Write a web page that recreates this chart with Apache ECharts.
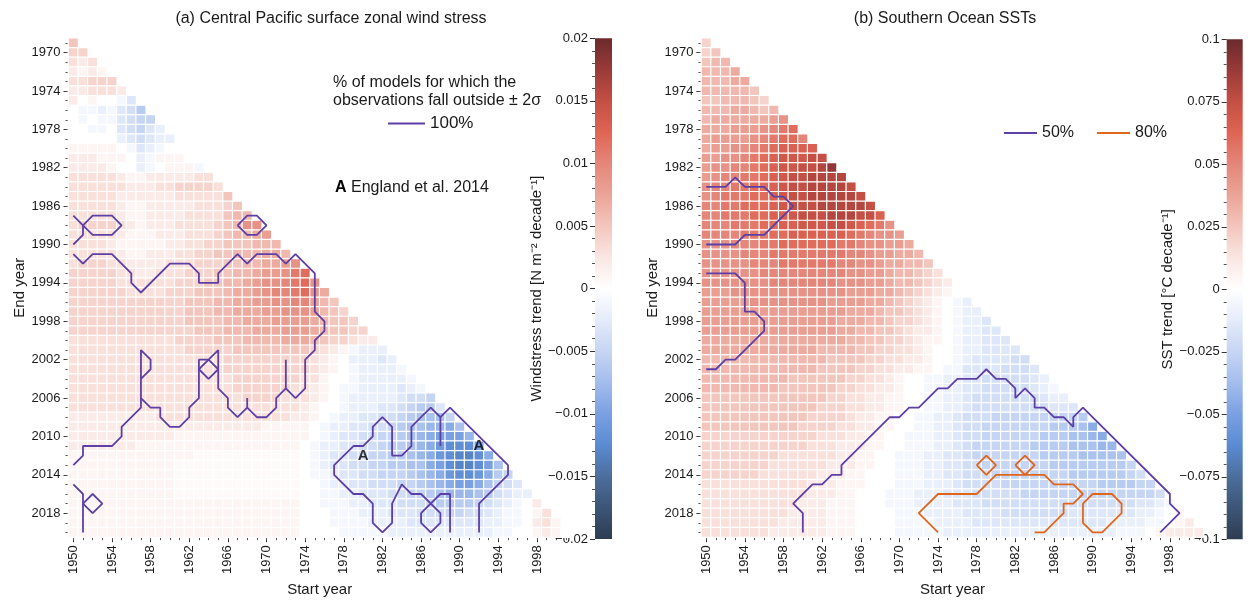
<!DOCTYPE html>
<html>
<head>
<meta charset="utf-8">
<script src="https://cdn.jsdelivr.net/npm/echarts@6/dist/echarts.min.js"></script>
<style>
html,body{margin:0;padding:0;background:#ffffff;}
#chart{width:1253px;height:602px;}
</style>
</head>
<body>
<div id="chart"></div>
<script>
// ---------------- categories / tick labels ----------------
const startYears = ['1950','1951','1952','1953','1954','1955','1956','1957','1958','1959','1960','1961','1962','1963','1964','1965','1966','1967','1968','1969','1970','1971','1972','1973','1974','1975','1976','1977','1978','1979','1980','1981','1982','1983','1984','1985','1986','1987','1988','1989','1990','1991','1992','1993','1994','1995','1996','1997','1998','1999','2000','2001'];
const endYears = ['1969','1970','1971','1972','1973','1974','1975','1976','1977','1978','1979','1980','1981','1982','1983','1984','1985','1986','1987','1988','1989','1990','1991','1992','1993','1994','1995','1996','1997','1998','1999','2000','2001','2002','2003','2004','2005','2006','2007','2008','2009','2010','2011','2012','2013','2014','2015','2016','2017','2018','2019','2020'];
const startTickLabels = ['1950','1954','1958','1962','1966','1970','1974','1978','1982','1986','1990','1994','1998'];
const endTickLabels = ['1970','1974','1978','1982','1986','1990','1994','1998','2002','2006','2010','2014','2018'];
const windTicks = [-0.02,-0.015,-0.01,-0.005,0,0.005,0.01,0.015,0.02];
const sstTicks = [-0.1,-0.075,-0.05,-0.025,0,0.025,0.05,0.075,0.1];

// ---------------- (a) wind stress trend, one row per end year (1969..2020), start year 1950.. ; unit 0.001 N m-2 decade-1
const windUnit = 0.001;
const windTrendRows = [
[5],
[4,4],
[3,2,3],
[2,1,2,1],
[3,3,4,4,4],
[2,2,3,3,3,2],
[2,0,1,0,0,-1,-3],
[0,-1,-1,-2,-1,-3,-4,-6],
[0,-1,0,-1,-1,-3,-4,-5,-5],
[0,0,-1,-1,0,-3,-4,-5,-3,-2],
[0,0,0,0,0,-2,-3,-4,-3,-2,-2],
[1,1,1,1,1,0,-1,-3,-2,-1,0,0],
[2,2,2,1,1,1,0,-2,-1,1,1,1,0],
[2,2,2,2,1,0,0,-2,-1,0,1,1,1,-1],
[3,3,3,3,3,2,1,1,2,2,2,2,2,3,3],
[3,3,3,3,3,3,2,2,2,3,3,4,4,4,4,3],
[3,3,3,3,3,2,2,2,2,2,2,3,3,3,3,3,5],
[3,3,3,3,3,2,1,1,2,2,2,2,2,3,3,3,4,5],
[3,3,3,3,3,2,1,1,2,2,2,2,3,3,3,3,5,6,6],
[3,4,4,4,4,3,2,1,2,2,2,3,3,3,3,4,5,6,9,9],
[3,3,3,3,3,2,1,1,1,2,2,2,3,3,3,4,5,6,6,7,8],
[3,3,3,3,2,1,1,1,1,1,2,2,3,3,4,4,5,5,5,6,6,6],
[3,3,3,3,3,2,1,1,2,2,2,3,3,4,4,5,5,6,6,6,7,7,6],
[3,4,4,4,3,3,2,2,2,2,3,3,3,4,4,4,5,5,6,6,7,7,8,9],
[4,4,4,4,4,3,3,2,2,3,3,3,4,4,4,5,5,6,6,7,8,8,9,11,12],
[4,4,4,4,4,3,3,3,3,3,3,4,4,4,5,5,6,6,7,8,9,9,10,11,12,9],
[4,4,4,4,4,4,3,3,3,3,4,4,4,5,5,5,6,7,7,8,9,10,10,11,12,9,7],
[4,4,4,4,4,4,4,4,4,4,4,4,5,5,5,6,6,7,7,8,8,9,9,10,10,8,6,5],
[4,4,4,4,4,4,4,4,4,4,4,4,5,5,5,6,6,7,7,7,8,8,9,9,9,8,6,5,4],
[4,4,4,4,4,4,4,4,4,4,4,4,5,5,5,5,6,6,7,7,7,8,8,8,8,7,6,5,5,4],
[4,4,4,4,4,4,4,4,4,4,4,4,4,5,5,5,6,6,6,7,7,7,8,8,8,7,6,5,5,4,4],
[3,3,3,3,3,3,3,3,3,3,3,4,4,4,4,5,5,5,6,6,6,6,7,7,7,6,5,4,4,3,2,2],
[3,3,3,3,3,3,3,3,3,3,3,3,4,4,4,4,4,5,5,5,5,5,5,5,5,4,3,2,1,-1,-2,-2,-2],
[3,3,3,3,3,3,3,3,3,3,3,3,3,3,3,3,4,4,4,4,4,4,4,4, 4,3,2,1,0,-2,-2,-2,-3,-2],
[3,3,3,3,3,3,3,3,3,3,3,3,3,3,3,3,4,4,4,4,4,4,4,4, 4,3,2,1,0,-1,-2,-2,-2,-2,-1],
[3,3,3,3,3,3,3,3,3,3,3,3,3,3,3,3,3,4,4,4,4,4,4,4, 3,3,1,0,0,-1,-2,-2,-2,-2,-2,-1],
[3,3,3,3,3,3,3,3,3,3,3,3,3,3,3,3,3,4,4,4,4,4,4,3, 3,2,1,0,-1,-1,-2,-2,-2,-2,-3,-2,-1],
[3,3,3,3,3,3,3,3,3,3,3,3,3,3,3,3,3,3,4,4,4,4,3,3, 3,2,1,0,-1,-2,-2,-2,-2,-2,-3,-4,-4,-5],
[3,3,3,3,3,3,3,3,3,3,3,3,3,3,3,3,3,3,3,3,3,3,3,3, 2,1,0,0,-1,-2,-2,-2,-3,-3,-4,-5,-6,-6,-3],
[2,2,2,2,2,2,2,2,2,3,3,3,3,3,3,3,3,3,3,3,3,3,3,2, 2,1,0,-1,-2,-2,-3,-3,-4,-4,-5,-6,-7,-7,-7,-5],
[2,2,2,2,2,2,2,2,2,2,2,2,2,2,2,2,2,2,2,2,1,1,1,1, 1,0,-1,-2,-2,-3,-3,-4,-4,-5,-6,-7,-7,-8,-8,-9,-7],
[2,2,2,2,2,2,2,2,2,2,2,1,1,1,1,1,1,1,1,1,1,1,1,1, 1,0,-1,-2,-3,-3,-4,-4,-5,-5,-6,-7,-8,-9,-10,-10,-10,-8],
[2,2,2,2,2,2,2,1,1,1,1,1,1,1,1,1,1,1,1,1,1,1,1,1, 0,-1,-2,-2,-3,-3,-4,-4,-5,-6,-6,-7,-8,-9,-11,-12,-12,-12,-10],
[1,1,1,1,1,1,1,1,1,1,1,1,1,0.5,0.5,0.5,0.5,0.5,0.5,0.5,0.5,0.5,0.5,0.5, 0,-1,-2,-3,-3,-4,-4,-5,-5,-6,-6,-7,-8,-9,-11,-12,-13,-13,-12,-9],
[1,1,1,1,1,1,1,1,1,1,1,0.5,0.5,0.5,0.5,0.5,0.5,0.5,0.5,0.5,0.5,0.5,0.5,0.5, 0,-1,-2,-3,-3,-4,-4,-5,-5,-6,-6,-7,-7,-9,-10,-12,-13,-13,-12,-10,-7],
[1,1,1,1,1,1,1,1,1,1,1,0.5,0.5,0.5,0.5,0.5,0.5,0.5,0.5,0.5,0.5,0.5,0.5,0.5, 0,-1,-1,-2,-3,-3,-4,-4,-5,-5,-5,-6,-7,-8,-9,-11,-12,-12,-11,-9,-6,-5],
[1,1,1,1,1,1,1,1,1,1,1,0.5,0.5,0.5,0.5,0.5,0.5,0.5,0.5,0.5,0.5,0.5,0.5,0.5, 0,0,-1,-2,-2,-3,-3,-4,-4,-4,-5,-5,-6,-7,-8,-9,-10,-10,-9,-7,-5,-4,-3],
[1,1,1,1,1,1,1,1,1,1,1,0.5,0.5,0.5,0.5,0.5,0.5,0.5,0.5,0.5,0.5,0.5,0.5,0.5, 0,0,-1,-1,-2,-2,-3,-3,-3,-4,-4,-5,-5,-6,-7,-8,-8,-8,-7,-6,-4,-3,-2,-2],
[1,1,1,1,1,1,1,1,1,1,1,1,1,1,1,1,1,1,1,1,1,1,1,1, 0,0,-1,-1,-1,-2,-2,-3,-3,-3,-4,-4,-4,-5,-6,-6,-6,-6,-5,-4,-3,-2,-1,0,2],
[1,1,1,1,1,1,1,1,1,1,1,1,1,1,1,1,1,1,1,1,1,1,1,1, 0,0,0,-1,-1,-1,-2,-2,-2,-3,-3,-3,-4,-4,-4,-5,-5,-4,-4,-3,-2,-1,-1,0,1,3],
[1,1,1,1,1,1,1,1,1,1,1,1,1,1,1,1,1,1,1,1,1,1,1,1, 0,0,0,-1,-1,-1,-1,-2,-2,-2,-2,-3,-3,-3,-3,-3,-3,-3,-3,-2,-2,-1,-1,0,2,3,1],
[1,1,1,1,1,1,1,1,1,1,1,1,1,1,1,1,1,1,1,1,1,1,1,1, 0,0,0,0,-1,-1,-1,-1,-1,-2,-2,-2,-2,-2,-2,-2,-2,-2,-2,-2,-1,-1,0,0,1,2,1,0]
];

// ---------------- (b) Southern Ocean SST trend ; unit 0.005 degC decade-1
const sstUnit = 0.005;
const sstTrendRows = [
[4],
[4,5],
[5,6,6],
[6,6,6,7],
[6,6,6,7,7],
[6,6,6,6,6,5],
[5,5,6,6,6,5,4],
[6,6,6,7,7,6,5,6],
[6,7,7,7,7,7,7,8,9],
[7,7,7,8,8,8,9,10,11,12],
[7,8,8,8,8,9,10,11,12,12,10],
[7,8,8,9,9,10,11,12,13,13,13,13],
[8,8,9,9,10,11,12,13,14,14,14,15,15],
[8,9,9,10,10,11,12,13,14,14,15,15,16,18],
[8,9,10,10,11,11,12,13,14,15,15,16,16,16,16],
[9,10,10,11,11,12,12,13,14,15,15,16,16,16,16,15],
[9,10,11,11,11,12,12,13,14,15,15,16,16,16,16,16,15],
[10,10,11,11,12,12,12,13,14,15,15,15,16,16,16,16,16,15],
[10,10,11,11,11,12,12,13,13,14,15,15,15,16,16,16,15,15,13],
[10,10,10,11,11,11,12,12,13,13,14,14,14,15,15,14,13,12,11,9],
[10,10,10,10,11,11,11,12,12,13,13,13,13,13,13,12,11,10,9,9,8],
[9,9,9,10,10,10,11,11,12,12,12,12,12,12,11,11,10,9,9,8,8,7],
[9,9,9,9,10,10,10,11,11,11,11,11,11,11,11,10,10,9,8,8,7,7,6],
[9,9,9,9,9,10,10,10,11,11,11,11,11,11,10,10,9,9,8,7,7,6,6,5],
[9,9,9,9,9,9,10,10,10,10,10,10,10,10,10,9,9,8,8,7,6,6,5,4,3],
[9,9,9,9,9,9,9,10,10,10,10,10,10,10,9,9,9,8,8,7,6,6,5,4,3,2],
[8,8,8,9,9,9,9,9,9,9,9,9,9,9,9,8,8,8,7,7,6,5,4,3,2,1,0],
[8,8,8,8,8,9,9,9,9,9,9,9,9,8,8,8,8,7,7,6,5,4,3,2,1,0,-1,-2],
[8,8,8,8,8,8,8,8,8,8,8,8,8,8,8,7,7,7,6,5,5,4,3,2,1,0,-1,-2,-2],
[8,8,8,8,8,8,8,8,8,8,8,8,8,8,7,7,7,6,6,5,4,4,3,2,1,0,-1,-2,-2,-3],
[8,8,8,8,8,8,8,8,8,8,8,8,8,8,7,7,6,6,5,5,4,3,2,2,1,0,-1,-2,-2,-3,-3],
[7,7,7,7,7,7,7,7,7,7,7,7,7,7,7,6,6,5,5,4,4,3,2,1,1,0,-1,-2,-2,-3,-3,-3],
[7,7,7,7,7,7,7,7,7,7,7,7,6,6,6,6,5,5,4,4,3,3,2,1,0,0,-1,-2,-2,-3,-3,-3,-3],
[6,6,6,6,6,6,6,6,6,6,6,6,6,5,5,5,5,4,4,3,3,2,2,1,0,0,-1, -2,-3,-3,-3,-3,-4,-4],
[6,6,6,6,6,6,6,6,6,6,6,6,5,5,5,5,4,4,3,3,2,2,1,1,0,-1,-1, -3,-3,-3,-3,-4,-4,-4,-3],
[6,6,6,6,6,6,6,6,6,5,5,5,5,5,5,4,4,3,3,2,1,0,0,-1,-1,-2,-2, -3,-3,-4,-4,-4,-4,-4,-3,-2],
[6,6,6,6,6,6,6,6,5,5,5,5,5,5,4,4,3,3,2,2,1,0,0,-1,-1,-2,-2, -3,-3,-4,-4,-4,-4,-4,-3,-2,-1],
[5,5,5,5,5,5,5,5,5,5,5,5,5,4,4,3,3,2,2,1,1,0,0,-1,-1,-2,-2, -3,-4,-4,-4,-4,-4,-4,-4,-3,-2,-2],
[5,5,5,5,5,5,5,5,5,5,5,5,4,4,4,3,3,2,2,1,1,0,0,-1,-1,-2,-2, -3,-4,-4,-4,-4,-4,-4,-4,-4,-3,-3,-3],
[5,5,5,5,5,5,5,5,5,5,5,4,4,4,4,3,2,2,1,1,0,0,-1,-1,-2,-2,-3, -4,-4,-4,-5,-5,-5,-5,-5,-5,-5,-5,-5,-6],
[5,5,5,5,5,5,5,5,5,5,4,4,4,4,3,3,2,2,1,1,0,0,-1,-1,-2,-2,-3, -4,-4,-5,-5,-5,-5,-5,-5,-5,-6,-6,-6,-7,-9],
[4,4,4,4,4,4,4,4,4,4,4,4,3,3,3,2,2,1,1,0,0,-1,-1,-1,-2,-2,-3, -4,-4,-5,-5,-5,-5,-5,-5,-6,-6,-6,-7,-7,-8,-9],
[4,4,4,4,4,4,4,4,4,4,4,3,3,3,2,2,2,1,1,0,0,-1,-1,-1,-2,-2,-3, -4,-5,-5,-5,-5,-5,-5,-6,-6,-6,-6,-7,-7,-7,-8,-8],
[4,4,4,4,4,4,4,4,3,3,3,3,3,3,2,2,1,1,0,0,-1,-1,-1,-2,-2,-3,-3, -4,-5,-5,-5,-5,-5,-5,-5,-6,-6,-6,-6,-7,-7,-7,-7,-7],
[4,4,4,4,4,4,4,3,3,3,3,3,3,2,2,2,1,1,0,0,-1,-1,-1,-2,-2,-3,-3, -4,-4,-5,-5,-5,-5,-5,-5,-5,-6,-6,-6,-6,-6,-6,-6,-6,-5],
[4,4,4,4,4,4,3,3,3,3,3,3,2,2,2,1,1,0,0,0,-1,-1,-1,-2,-2,-3,-3, -4,-4,-4,-5,-5,-5,-5,-5,-5,-5,-5,-6,-6,-6,-6,-6,-6,-5,-4],
[3,3,3,3,3,3,3,3,3,3,3,2,2,2,1,1,1,0,0,0,-1,-1,-1,-2,-2,-2,-3, -4,-4,-4,-4,-5,-5,-5,-5,-5,-5,-5,-5,-5,-5,-6,-6,-6,-6,-5,-5],
[3,3,3,3,3,3,3,3,3,3,3,2,2,2,1,1,0,0,0,-1,-1,-1,-2,-2,-2,-3,-3, -3,-4,-4,-4,-4,-4,-5,-5,-5,-5,-5,-5,-5,-5,-5,-5,-5,-5,-5,-5,-4],
[3,3,3,3,3,3,3,3,3,3,2,2,2,1,1,1,0,0,0,-1,-1,-1,-2,-2,-2,-2,-3, -3,-3,-4,-4,-4,-4,-4,-4,-4,-4,-4,-4,-4,-4,-4,-4,-4,-4,-3,-3,-2,-1],
[3,3,3,3,3,3,3,3,3,2,2,2,2,1,1,1,0,0,0,0,-1,-1,-1,-2,-2,-2,-2, -3,-3,-3,-3,-4,-4,-4,-4,-4,-4,-4,-3,-3,-3,-3,-3,-3,-3,-2,-2,-1,0,1],
[3,3,3,3,3,3,3,3,2,2,2,2,2,1,1,1,0,0,0,0,-1,-1,-1,-1,-2,-2,-2, -2,-3,-3,-3,-3,-3,-3,-3,-3,-3,-3,-3,-3,-3,-3,-2,-2,-2,-2,-1,-1,0,1,2],
[3,3,3,3,3,3,3,2,2,2,2,2,2,1,1,1,0,0,0,0,-1,-1,-1,-1,-1,-2,-2, -2,-2,-2,-2,-2,-2,-2,-2,-2,-2,-2,-2,-2,-2,-2,-2,-1,-1,-1,0,1,2,2,2,2]
];

// ---------------- contour lines, [start year, end year] ----------------
const windContour100 = [
  [[1950,1987],[1951,1988],[1952,1987],[1954,1987],[1955,1988],[1954,1989],[1952,1989],[1951,1988]],
  [[1951,1988],[1951,1989],[1950,1990]],
  [[1967,1988],[1968,1987],[1969,1987],[1970,1988],[1969,1989],[1968,1989],[1967,1988]],
  [[1950,1991],[1951,1992],[1952,1991],[1954,1991],[1956,1993],[1956,1994],[1957,1995],[1960,1992],[1962,1992],[1963,1993],[1963,1994],[1965,1994],[1965,1993],[1967,1991],[1968,1992],[1969,1991],[1971,1991],[1972,1992],[1973,1991],[1975,1993],[1975,1997],[1976,1998],[1976,1999],[1975,2000],[1975,2001],[1974,2002],[1974,2005],[1973,2006],[1972,2005],[1971,2006],[1971,2007],[1970,2008],[1969,2008],[1968,2007],[1967,2008],[1966,2007],[1966,2006],[1965,2005],[1965,2001],[1964,2002],[1963,2002],[1963,2006],[1962,2007],[1962,2008],[1961,2009],[1960,2009],[1959,2008],[1959,2007],[1958,2007],[1957,2006],[1957,2001],[1958,2002],[1958,2003],[1957,2004]],
  [[1957,2006],[1957,2007],[1955,2009],[1955,2010],[1954,2011],[1951,2011],[1951,2012],[1950,2013]],
  [[1972,2002],[1972,2005]],
  [[1968,2006],[1968,2007]],
  [[1963,2003],[1964,2002],[1965,2003],[1964,2004],[1963,2003]],
  [[1950,2015],[1951,2016],[1951,2020]],
  [[1951,2017],[1952,2016],[1953,2017],[1952,2018],[1951,2017]],
  [[1992,2020],[1992,2017],[1995,2014],[1995,2013],[1989,2007],[1988,2008],[1987,2007],[1986,2008],[1985,2009],[1985,2011],[1984,2012],[1983,2012],[1983,2009],[1982,2008],[1981,2009],[1981,2010],[1980,2011],[1979,2011],[1977,2013],[1977,2014],[1979,2016],[1980,2016],[1981,2017],[1981,2019],[1982,2020],[1983,2019],[1983,2017],[1984,2015],[1985,2016],[1986,2016],[1988,2018],[1988,2019],[1987,2020],[1986,2019],[1986,2018],[1988,2016],[1989,2016],[1989,2020]],
  [[1988,2008],[1988,2011]]
];
const sstContour50 = [
  [[1950,1984],[1952,1984],[1953,1983],[1954,1984],[1956,1984],[1957,1985],[1958,1985],[1959,1986],[1956,1989],[1954,1989],[1953,1990],[1950,1990]],
  [[1950,1993],[1953,1993],[1954,1994],[1954,1997],[1955,1997],[1956,1998],[1956,1999],[1953,2002],[1952,2002],[1951,2003],[1950,2003]],
  [[1960,2020],[1960,2018],[1959,2017],[1961,2015],[1962,2015],[1963,2014],[1964,2014],[1964,2013],[1969,2008],[1970,2008],[1971,2007],[1972,2007],[1974,2005],[1975,2005],[1976,2004],[1978,2004],[1979,2003],[1980,2004],[1981,2004],[1982,2005],[1982,2006],[1983,2005],[1984,2006],[1984,2007],[1985,2007],[1986,2008],[1987,2008],[1988,2009],[1988,2008],[1989,2007],[1998,2016],[1998,2017],[1999,2018],[1997,2020]]
];
const sstContour80 = [
  [[1974,2020],[1972,2018],[1974,2016],[1978,2016],[1980,2014],[1985,2014],[1986,2015],[1988,2015],[1989,2016],[1988,2017],[1987,2017],[1987,2018],[1985,2020],[1984,2020]],
  [[1978,2013],[1979,2012],[1980,2013],[1979,2014],[1978,2013]],
  [[1982,2013],[1983,2012],[1984,2013],[1983,2014],[1982,2013]],
  [[1989,2017],[1990,2016],[1992,2016],[1993,2017],[1993,2018],[1991,2020],[1990,2020],[1989,2019],[1989,2017]]
];
const englandMarks = [[1980,2012],[1992,2011]];

// ---------------- styling ----------------
const FONT = "'Liberation Sans', Arial, Helvetica, sans-serif";
const TXT = '#1a1a1a';
const divergingColors = ['#2d3d52','#3d5576','#4c6e9c','#5a8bd2','#7aa0e2','#a3bdec','#c6d5f3','#e4ebfa','#ffffff','#fae6e2','#f3c6bd','#eba498','#e5867a','#df6554','#c44f44','#9a3a38','#6b2a2c'];
const PURPLE = '#5d3fa6';
const ORANGE = '#e0661c';

function toCells(rows, unit) {
  const out = [];
  rows.forEach((row, r) => row.forEach((v, c) => out.push([c, r, v * unit])));
  return out;
}
function fmtBar(v) {
  const s = String(parseFloat(Number(v).toFixed(4)));
  return s.charAt(0) === '-' ? '\u2212' + s.slice(1) : s;
}
function barGradient() {
  const stops = divergingColors.slice().reverse().map((c, i, a) => ({offset: i / (a.length - 1), color: c}));
  return {type: 'linear', x: 0, y: 0, x2: 0, y2: 1, colorStops: stops};
}

const GA = {left: 68.5, top: 38.2, width: 502.3, height: 502};
const GB = {left: 701.4, top: 38.2, width: 502.3, height: 502};

function heatAxesX(gi) {
  const majorFn = (i, v) => startTickLabels.indexOf(v) >= 0;
  return [
    {type: 'category', gridIndex: gi, data: startYears, position: 'bottom',
     axisLine: {show: false}, splitLine: {show: false},
     axisTick: {show: true, alignWithLabel: true, interval: majorFn, length: 5, lineStyle: {color: '#333'}},
     axisLabel: {show: true, interval: majorFn, rotate: 90, margin: 8, fontSize: 13, color: TXT, fontFamily: FONT},
     name: 'Start year', nameLocation: 'middle', nameGap: 40,
     nameTextStyle: {fontSize: 15, color: TXT, fontFamily: FONT}},
    {type: 'category', gridIndex: gi, data: startYears, position: 'bottom',
     axisLine: {show: false}, splitLine: {show: false}, axisLabel: {show: false},
     axisTick: {show: true, alignWithLabel: true, interval: 0, length: 3, lineStyle: {color: '#555'}}},
    {type: 'value', gridIndex: gi, min: 1949.5, max: 2001.5, show: false, splitLine: {show: false}}
  ];
}
function heatAxesY(gi) {
  const majorFn = (i, v) => endTickLabels.indexOf(v) >= 0;
  return [
    {type: 'category', gridIndex: gi, data: endYears, inverse: true, position: 'left',
     axisLine: {show: false}, splitLine: {show: false},
     axisTick: {show: true, alignWithLabel: true, interval: majorFn, length: 5, lineStyle: {color: '#333'}},
     axisLabel: {show: true, interval: majorFn, margin: 8, fontSize: 13, color: TXT, fontFamily: FONT},
     name: 'End year', nameLocation: 'middle', nameGap: 41, nameRotate: 90,
     nameTextStyle: {fontSize: 15, color: TXT, fontFamily: FONT}},
    {type: 'category', gridIndex: gi, data: endYears, inverse: true, position: 'left',
     axisLine: {show: false}, splitLine: {show: false}, axisLabel: {show: false},
     axisTick: {show: true, alignWithLabel: true, interval: 0, length: 3, lineStyle: {color: '#555'}}},
    {type: 'value', gridIndex: gi, min: 1968.5, max: 2020.5, inverse: true, show: false, splitLine: {show: false}}
  ];
}
function barAxisY(gi, ticks, name) {
  return {type: 'value', gridIndex: gi, position: 'left',
    min: ticks[0], max: ticks[ticks.length - 1], interval: ticks[1] - ticks[0],
    axisLine: {show: false}, splitLine: {show: false},
    axisTick: {show: true, length: 5, lineStyle: {color: '#333'}},
    minorTick: {show: true, splitNumber: 5, length: 3, lineStyle: {color: '#555'}},
    minorSplitLine: {show: false},
    axisLabel: {fontSize: 13, color: TXT, margin: 7, fontFamily: FONT, formatter: fmtBar},
    name: name, nameLocation: 'middle', nameGap: 50, nameRotate: 90,
    nameTextStyle: {fontSize: 15, color: TXT, fontFamily: FONT}};
}
function contourSeries(name, paths, color, xi, yi) {
  return paths.map(p => ({type: 'line', name: name, xAxisIndex: xi, yAxisIndex: yi, data: p,
    symbol: 'none', showSymbol: false, silent: true, z: 5,
    lineStyle: {color: color, width: 1.8}, itemStyle: {color: color}}));
}

const option = {
  animation: false,
  backgroundColor: '#ffffff',
  textStyle: {fontFamily: FONT},
  title: [
    {text: '(a) Central Pacific surface zonal wind stress', left: 326, top: 6, textAlign: 'center',
     textStyle: {fontSize: 16, fontWeight: 'normal', color: TXT, fontFamily: FONT}},
    {text: '(b) Southern Ocean SSTs', left: 940, top: 6, textAlign: 'center',
     textStyle: {fontSize: 16, fontWeight: 'normal', color: TXT, fontFamily: FONT}},
    {text: '% of models for which the\nobservations fall outside \u00b1 2\u03c3', left: 328, top: 69,
     textStyle: {fontSize: 16, lineHeight: 18, fontWeight: 'normal', color: TXT, fontFamily: FONT}},
    {text: '{b|A} England et al. 2014', left: 330, top: 175,
     textStyle: {fontSize: 16, fontWeight: 'normal', color: TXT, fontFamily: FONT,
       rich: {b: {fontSize: 16, fontWeight: 'bold', color: '#000', fontFamily: FONT}}}}
  ],
  legend: [
    {data: ['100%'], left: 382, top: 110, itemWidth: 37, itemHeight: 12, selectedMode: false,
     itemStyle: {opacity: 0, borderWidth: 0},
     textStyle: {fontSize: 17, color: TXT, fontFamily: FONT}},
    {data: ['50%', '80%'], left: 998, top: 120, itemWidth: 33, itemHeight: 12, itemGap: 22, selectedMode: false,
     itemStyle: {opacity: 0, borderWidth: 0},
     textStyle: {fontSize: 16, color: TXT, fontFamily: FONT}}
  ],
  grid: [
    Object.assign({containLabel: false}, GA),
    Object.assign({containLabel: false}, GB),
    {left: 595, top: 38.3, width: 17, height: 500.7, show: true, borderWidth: 0, backgroundColor: barGradient()},
    {left: 1226.7, top: 39.3, width: 16, height: 500, show: true, borderWidth: 0, backgroundColor: barGradient()}
  ],
  xAxis: [].concat(heatAxesX(0), heatAxesX(1), [
    {type: 'value', gridIndex: 2, show: false, min: 0, max: 1},
    {type: 'value', gridIndex: 3, show: false, min: 0, max: 1}
  ]),
  yAxis: [].concat(heatAxesY(0), heatAxesY(1), [
    barAxisY(2, windTicks, 'Windstress trend [N m\u207b\u00b2 decade\u207b\u00b9]'),
    barAxisY(3, sstTicks, 'SST trend [\u00b0C decade\u207b\u00b9]')
  ]),
  visualMap: [
    {type: 'continuous', show: false, seriesIndex: 0, min: windTicks[0], max: windTicks[windTicks.length - 1], inRange: {color: divergingColors}},
    {type: 'continuous', show: false, seriesIndex: 1, min: sstTicks[0], max: sstTicks[sstTicks.length - 1], inRange: {color: divergingColors}}
  ],
  series: [].concat(
    [{type: 'heatmap', xAxisIndex: 0, yAxisIndex: 0, data: toCells(windTrendRows, windUnit), progressive: 0,
      itemStyle: {borderColor: '#ffffff', borderWidth: 1.2}, emphasis: {disabled: true}},
     {type: 'heatmap', xAxisIndex: 3, yAxisIndex: 3, data: toCells(sstTrendRows, sstUnit), progressive: 0,
      itemStyle: {borderColor: '#ffffff', borderWidth: 1.2}, emphasis: {disabled: true}}],
    contourSeries('100%', windContour100, PURPLE, 2, 2),
    contourSeries('50%', sstContour50, PURPLE, 5, 5),
    contourSeries('80%', sstContour80, ORANGE, 5, 5),
    [{type: 'scatter', xAxisIndex: 2, yAxisIndex: 2, data: englandMarks, symbolSize: 1, silent: true, z: 6,
      itemStyle: {color: 'rgba(0,0,0,0)'},
      label: {show: true, position: 'inside', formatter: 'A', fontSize: 15, fontWeight: 'bold', color: '#000', fontFamily: FONT}}]
  )
};

const chart = echarts.init(document.getElementById('chart'), null, {renderer: 'canvas'});
chart.setOption(option);
</script>
</body>
</html>
